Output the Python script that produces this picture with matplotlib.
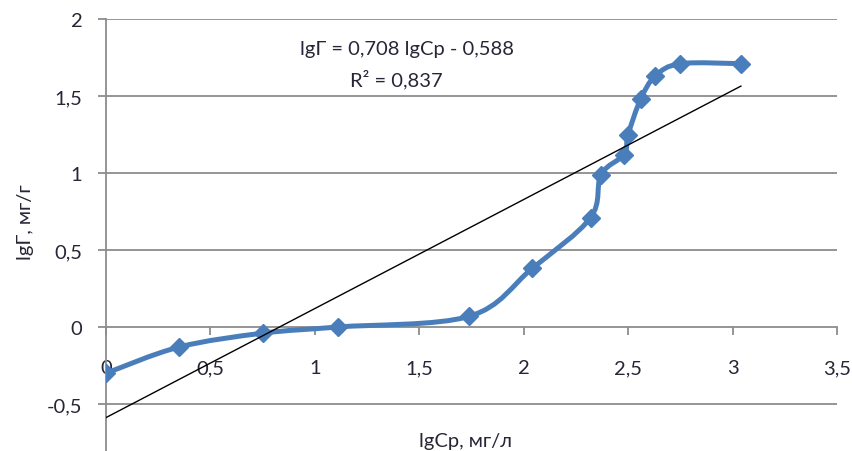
import numpy as np
import matplotlib
matplotlib.use("Agg")
import matplotlib.pyplot as plt
from matplotlib.path import Path
from matplotlib.patches import PathPatch

plt.rcParams['font.family'] = ['Lato', 'Noto Sans', 'DejaVu Sans']

# data
lg_cp = [0.0, 0.35, 0.75, 1.11, 1.74, 2.04, 2.32, 2.37, 2.48, 2.50, 2.56, 2.63, 2.75, 3.04]
lg_g = [-0.30, -0.13, -0.04, 0.0, 0.07, 0.38, 0.71, 0.99, 1.12, 1.25, 1.48, 1.63, 1.71, 1.71]
slope = 0.708
intercept = -0.588
x_ticks = [0, 0.5, 1, 1.5, 2, 2.5, 3, 3.5]
x_labels = ['0', '0,5', '1', '1,5', '2', '2,5', '3', '3,5']
y_ticks = [-0.5, 0, 0.5, 1, 1.5, 2]
y_labels = ['-0,5', '0', '0,5', '1', '1,5', '2']

W, H = 852, 452
fig = plt.figure(figsize=(W / 100, H / 100), dpi=100)
left, right, top, bottom = 106, 837, 20, 452
ax = fig.add_axes([left / W, 1 - bottom / H, (right - left) / W, (bottom - top) / H])
ax.set_xlim(0, 3.5)
ax.set_ylim(-0.805, 2.0)

grid_c = '#8c8c8c'
text_c = '#262636'
fs = 14.5
for yv in y_ticks:
    if yv != 0:
        ax.axhline(yv, color=grid_c, lw=1.3, zorder=1)

for s in ['top', 'right']:
    ax.spines[s].set_visible(False)
ax.spines['left'].set_position(('data', 0))
ax.spines['bottom'].set_position(('data', 0))
for s in ['left', 'bottom']:
    ax.spines[s].set_color(grid_c)
    ax.spines[s].set_linewidth(1.3)

ax.set_xticks(x_ticks)
ax.set_xticklabels(x_labels)
ax.set_yticks(y_ticks)
ax.set_yticklabels(y_labels)
ax.tick_params(axis='x', direction='out', length=6, width=1.3, color=grid_c,
               labelsize=fs, labelcolor=text_c, pad=17)
ax.tick_params(axis='y', direction='out', length=6, width=1.3, color=grid_c,
               labelsize=fs, labelcolor=text_c, pad=11)

# Excel-like smoothed line (cubic Bezier, Catmull-Rom control points)
pts = np.column_stack([lg_cp, lg_g])
n = len(pts)
verts = [tuple(pts[0])]
codes = [Path.MOVETO]
for i in range(n - 1):
    p0 = pts[i - 1] if i > 0 else pts[i]
    p1 = pts[i]
    p2 = pts[i + 1]
    p3 = pts[i + 2] if i + 2 < n else pts[i + 1]
    c1 = p1 + (p2 - p0) / 6.0
    c2 = p2 - (p3 - p1) / 6.0
    verts += [tuple(c1), tuple(c2), tuple(p2)]
    codes += [Path.CURVE4] * 3
patch = PathPatch(Path(verts, codes), facecolor='none', edgecolor='#4a7ebb',
                  lw=3.6, zorder=3, capstyle='round', joinstyle='round')
ax.add_patch(patch)
ax.plot(lg_cp, lg_g, linestyle='none', marker='D', markersize=9,
        color='#4a7ebb', zorder=4)

# trendline
tx = np.array([min(lg_cp), max(lg_cp)])
ax.plot(tx, slope * tx + intercept, color='black', lw=1.0, zorder=5)

fig.text(407 / W, 1 - 50 / H, 'lgГ = 0,708 lgCp - 0,588', ha='center', va='center',
         fontsize=fs, color=text_c)
fig.text(396 / W, 1 - 80 / H, 'R² = 0,837', ha='center', va='center',
         fontsize=fs, color=text_c)
fig.text(25 / W, 1 - 222 / H, 'lgГ, мг/г', rotation=90, ha='center', va='center',
         fontsize=fs, color=text_c)
fig.text(465 / W, 1 - 442 / H, 'lgCp, мг/л', ha='center', va='center',
         fontsize=fs, color=text_c)

fig.savefig('out.png', dpi=100)
